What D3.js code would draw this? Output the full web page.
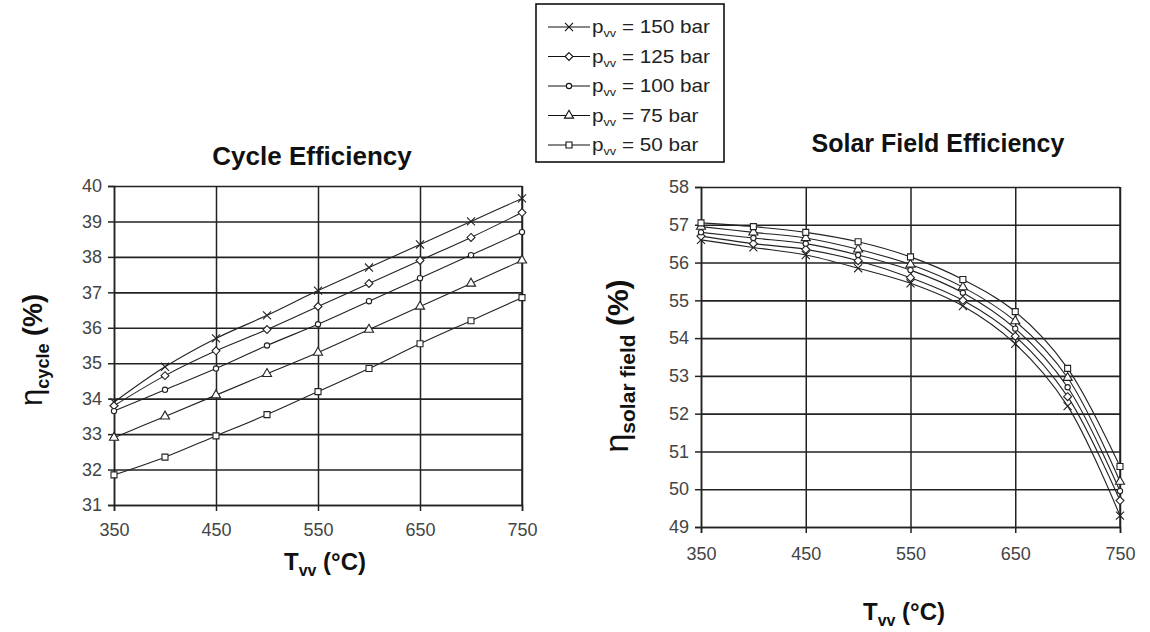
<!DOCTYPE html>
<html>
<head>
<meta charset="utf-8">
<script src="https://cdn.jsdelivr.net/npm/d3@7"></script>
<style>
  body { margin: 0; background: #fff; }
  svg { display: block; font-family: "Liberation Sans", Arial, sans-serif; }
  .tick text { fill: #444; font-size: 18px; }
</style>
</head>
<body>
<div id="chart"></div>
<script>
// temperatures of live steam (x axis)
const temps = [350, 400, 450, 500, 550, 600, 650, 700, 750];
const pressures = [150, 125, 100, 75, 50];

// cycle efficiency (%)
const cycle150 = [33.9, 34.9, 35.7, 36.35, 37.05, 37.7, 38.35, 39.0, 39.65];
const cycle125 = [33.8, 34.65, 35.35, 35.95, 36.6, 37.25, 37.9, 38.55, 39.25];
const cycle100 = [33.65, 34.25, 34.85, 35.5, 36.1, 36.75, 37.4, 38.05, 38.7];
const cycle75 = [32.9, 33.5, 34.1, 34.7, 35.3, 35.95, 36.6, 37.25, 37.9];
const cycle50 = [31.85, 32.35, 32.95, 33.55, 34.2, 34.85, 35.55, 36.2, 36.85];

// solar field efficiency (%)
const solar150 = [56.6, 56.4, 56.2, 55.85, 55.45, 54.85, 53.85, 52.2, 49.3];
const solar125 = [56.7, 56.5, 56.35, 56.05, 55.6, 55.0, 54.05, 52.45, 49.7];
const solar100 = [56.8, 56.65, 56.5, 56.2, 55.8, 55.2, 54.25, 52.7, 49.95];
const solar75 = [56.95, 56.8, 56.65, 56.35, 55.95, 55.35, 54.45, 52.95, 50.2];
const solar50 = [57.05, 56.95, 56.8, 56.55, 56.15, 55.55, 54.7, 53.2, 50.6];

const xTicks = [350, 450, 550, 650, 750];
const cycleTicks = [31, 32, 33, 34, 35, 36, 37, 38, 39, 40];
const solarTicks = [49, 50, 51, 52, 53, 54, 55, 56, 57, 58];

const symbols = [d3.symbolX, d3.symbolDiamond2, d3.symbolCircle, d3.symbolTriangle, d3.symbolSquare];
const symbolSizes = [44, 40, 22, 36, 36];

const svg = d3.select('#chart').append('svg')
  .attr('width', 1150)
  .attr('height', 632);

svg.append('rect').attr('width', 1150).attr('height', 632).attr('fill', '#fff');

function drawPanel(opts) {
  const x = d3.scaleLinear().domain([350, 750]).range([opts.left, opts.right]);
  const y = d3.scaleLinear().domain(opts.domain).range([opts.bottom, opts.top]);
  const g = svg.append('g');

  // grid
  g.append('g')
    .attr('transform', `translate(0,${opts.bottom})`)
    .call(d3.axisBottom(x).tickValues(xTicks).tickSize(-(opts.bottom - opts.top)).tickFormat(''))
    .call(s => s.select('.domain').remove())
    .call(s => s.selectAll('line').attr('stroke', '#222').attr('stroke-width', 1.5));
  g.append('g')
    .attr('transform', `translate(${opts.left},0)`)
    .call(d3.axisLeft(y).tickValues(opts.ticks).tickSize(-(opts.right - opts.left)).tickFormat(''))
    .call(s => s.select('.domain').remove())
    .call(s => s.selectAll('line').attr('stroke', '#222').attr('stroke-width', 1.6));

  // axes
  g.append('g')
    .attr('transform', `translate(0,${opts.bottom})`)
    .call(d3.axisBottom(x).tickValues(xTicks).tickSize(6).tickPadding(opts.xPad))
    .call(s => s.select('.domain').attr('stroke', '#222').attr('stroke-width', 1.5))
    .call(s => s.selectAll('line').attr('stroke', '#222').attr('stroke-width', 1.5));
  g.append('g')
    .attr('transform', `translate(${opts.left},0)`)
    .call(d3.axisLeft(y).tickValues(opts.ticks).tickSize(6).tickPadding(6))
    .call(s => s.select('.domain').attr('stroke', '#222').attr('stroke-width', 1.5))
    .call(s => s.selectAll('line').attr('stroke', '#222').attr('stroke-width', 1.5));
  g.append('line')
    .attr('x1', opts.right).attr('x2', opts.right)
    .attr('y1', opts.top).attr('y2', opts.bottom)
    .attr('stroke', '#222').attr('stroke-width', 1.5);

  const line = d3.line()
    .x((d, i) => x(temps[i]))
    .y(d => y(d))
    .curve(d3.curveCatmullRom);

  opts.series.forEach((vals, k) => {
    g.append('path')
      .datum(vals)
      .attr('fill', 'none')
      .attr('stroke', '#222')
      .attr('stroke-width', 1.1)
      .attr('d', line);
  });
  opts.series.forEach((vals, k) => {
    g.selectAll(null)
      .data(vals)
      .enter().append('path')
        .attr('transform', (d, i) => `translate(${x(temps[i])},${y(d)})`)
        .attr('d', d3.symbol(symbols[k], symbolSizes[k]))
        .attr('fill', k === 0 ? 'none' : '#fff')
        .attr('stroke', '#222')
        .attr('stroke-width', 1.1);
  });

  // title
  svg.append('text')
    .attr('x', opts.titleX).attr('y', opts.titleY)
    .attr('text-anchor', 'middle')
    .style('font-size', opts.titleFont + 'px').style('font-weight', 'bold').style('fill', '#111')
    .text(opts.title);

  // x label
  const xl = svg.append('text')
    .attr('x', opts.xLabelX).attr('y', opts.xLabelY)
    .attr('text-anchor', 'middle')
    .style('font-size', '24px').style('font-weight', 'bold').style('fill', '#111');
  xl.append('tspan').text('T');
  xl.append('tspan').attr('dy', 6).style('font-size', '16px').text('vv');
  xl.append('tspan').attr('dy', -6).text(' (°C)');

  // y label
  const yl = svg.append('text')
    .attr('transform', `translate(${opts.yLabelX},${opts.yLabelY}) rotate(-90)`)
    .attr('text-anchor', 'middle')
    .style('font-size', opts.yFont + 'px').style('font-weight', 'bold').style('fill', '#111');
  yl.append('tspan').style('font-weight', 'normal').style('font-size', (opts.yFont + 4) + 'px').text('η');
  yl.append('tspan').attr('dy', 7).style('font-size', opts.subFont + 'px').text(opts.sub);
  yl.append('tspan').attr('dy', -7).text(' (%)');
}

drawPanel({
  left: 114, right: 522, top: 186, bottom: 505,
  domain: [31, 40], ticks: cycleTicks, xPad: 12,
  series: [cycle150, cycle125, cycle100, cycle75, cycle50],
  title: 'Cycle Efficiency', titleX: 312, titleY: 165, titleFont: 26,
  xLabelX: 325, xLabelY: 570,
  yLabelX: 42, yLabelY: 350, yFont: 27, subFont: 18, sub: 'cycle'
});

drawPanel({
  left: 701, right: 1120, top: 187, bottom: 527,
  domain: [49, 58], ticks: solarTicks, xPad: 14,
  series: [solar150, solar125, solar100, solar75, solar50],
  title: 'Solar Field Efficiency', titleX: 938, titleY: 152, titleFont: 25,
  xLabelX: 904, xLabelY: 620,
  yLabelX: 628, yLabelY: 366, yFont: 30, subFont: 21, sub: 'solar field'
});

// legend
const legend = svg.append('g');
legend.append('rect')
  .attr('x', 536).attr('y', 4).attr('width', 188).attr('height', 158)
  .attr('fill', '#fff').attr('stroke', '#111').attr('stroke-width', 1.6);

const rowY = d3.scalePoint().domain(pressures).range([27, 145]);
pressures.forEach((p, k) => {
  const cy = rowY(p);
  legend.append('line')
    .attr('x1', 548).attr('x2', 590).attr('y1', cy).attr('y2', cy)
    .attr('stroke', '#111').attr('stroke-width', 1.2);
  legend.append('path')
    .attr('transform', `translate(569,${cy})`)
    .attr('d', d3.symbol(symbols[k], symbolSizes[k]))
    .attr('fill', k === 0 ? 'none' : '#fff')
    .attr('stroke', '#111').attr('stroke-width', 1.1);
  const t = legend.append('text')
    .attr('transform', `translate(592,${cy + 6}) scale(1.15,1)`)
    .style('font-size', '18px').style('fill', '#222');
  t.append('tspan').text('p');
  t.append('tspan').attr('dy', 4).style('font-size', '11px').text('vv');
  t.append('tspan').attr('dy', -4).text(` = ${p} bar`);
});
</script>
</body>
</html>
